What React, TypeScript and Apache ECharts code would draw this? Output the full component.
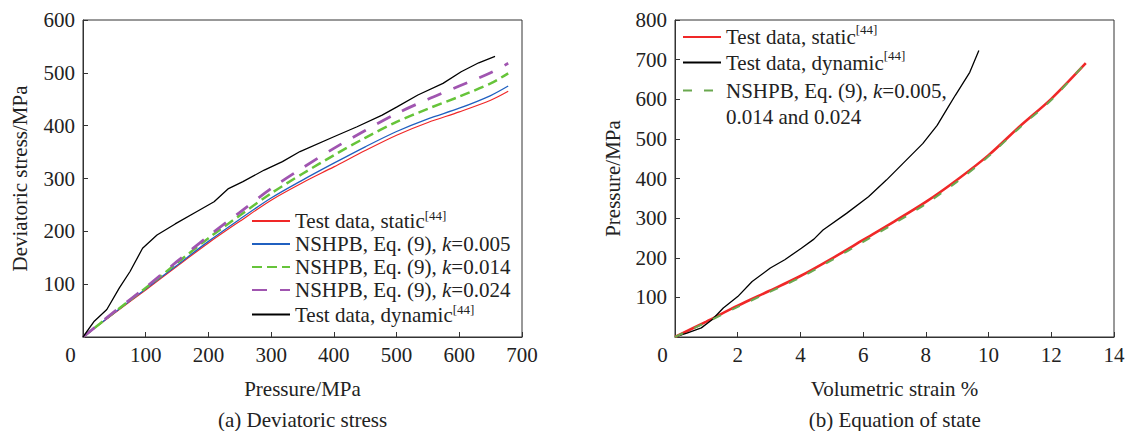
import React, { useEffect, useRef } from "react";
import * as echarts from "echarts";

const FONT = "Liberation Serif, Times New Roman, serif";

// ---- (a) Deviatoric stress vs pressure ----
const pModel = [0, 50, 100, 150, 200, 250, 300, 350, 400, 450, 500, 550, 600, 650, 678];
const dsStatic = [0, 45, 89, 134, 178, 219, 259, 292, 322, 353, 382, 406, 426, 448, 465];
const dsK005 = [0, 46, 91, 136, 181, 223, 263, 297, 329, 360, 389, 413, 433, 457, 475];
const dsK014 = [0, 47, 93, 140, 187, 230, 272, 309, 344, 377, 407, 432, 455, 480, 499];
const dsK024 = [0, 48, 94, 143, 191, 236, 281, 320, 357, 391, 423, 450, 475, 500, 518];
const pDyn = [0, 18, 38, 58, 75, 95, 118, 147, 181, 209, 232, 255, 289, 318, 346, 400, 437, 477, 500, 534, 574, 603, 631, 657];
const dsDyn = [0, 30, 52, 93, 124, 168, 193, 214, 237, 256, 281, 294, 316, 332, 351, 379, 398, 420, 435, 458, 480, 502, 519, 531];

// ---- (b) Equation of state ----
const evStatic = [0, 1, 2, 3, 4, 5, 6, 7, 8, 9, 10, 11, 12, 13.1];
const prStatic = [0, 39, 79, 116, 154, 198, 245, 292, 341, 397, 459, 532, 601, 691];
const evModel = [0, 1, 2, 3, 4, 5, 6, 7, 8, 9, 10, 11, 12, 13.05];
const prModel = [0, 37, 76, 113, 150, 194, 240, 287, 336, 392, 456, 529, 598, 688];
const evDyn = [0, 0.38, 0.84, 1.19, 1.54, 2.0, 2.46, 3.04, 3.5, 4.03, 4.43, 4.72, 5.47, 6.17, 6.74, 7.32, 7.9, 8.36, 8.71, 8.94, 9.17, 9.4, 9.58, 9.69];
const prDyn = [0, 10, 23, 44, 73, 102, 140, 174, 195, 224, 247, 270, 312, 354, 396, 442, 488, 534, 580, 610, 639, 668, 702, 723];

const xTicksA = { min: 0, max: 700, interval: 100 };
const yTicksA = { min: 0, max: 600, interval: 100 };
const xTicksB = { min: 0, max: 14, interval: 2 };
const yTicksB = { min: 0, max: 800, interval: 100 };

const zip = (xs: number[], ys: number[]) => xs.map((x, i) => [x, ys[i]]);

const legendText: Record<string, string> = {
  "a-static": "{t|Test data, static}{s|[44]}",
  "a-k005": "{t|NSHPB, Eq. (9), }{i|k}{t|=0.005}",
  "a-k014": "{t|NSHPB, Eq. (9), }{i|k}{t|=0.014}",
  "a-k024": "{t|NSHPB, Eq. (9), }{i|k}{t|=0.024}",
  "a-dyn": "{t|Test data, dynamic}{s|[44]}",
  "b-static": "{t|Test data, static}{s|[44]}",
  "b-dyn": "{t|Test data, dynamic}{s|[44]}",
  "b-model": "{t| }\n{t|NSHPB, Eq. (9), }{i|k}{t|=0.005,}\n{t|0.014 and 0.024}",
};

const AXIS_COLOR = "#333";
const TEXT_COLOR = "#222";

function richFor(lh: number) {
  return {
    t: { fontFamily: FONT, fontSize: 21, color: TEXT_COLOR, lineHeight: lh },
    i: { fontFamily: FONT, fontSize: 21, fontStyle: "italic", color: TEXT_COLOR, lineHeight: lh },
    s: { fontFamily: FONT, fontSize: 13, color: TEXT_COLOR, lineHeight: 15, verticalAlign: "top" },
  };
}

function axisX(gridIndex: number, ticks: any, name: string) {
  return {
    type: "value",
    gridIndex,
    ...ticks,
    name,
    nameLocation: "middle",
    nameGap: 41,
    nameTextStyle: { fontFamily: FONT, fontSize: 21, color: TEXT_COLOR },
    axisLine: { show: true, lineStyle: { color: AXIS_COLOR, width: 1 } },
    axisTick: { show: true, inside: true, length: 5, lineStyle: { color: AXIS_COLOR } },
    splitLine: { show: false },
    axisLabel: {
      margin: 7,
      fontFamily: FONT,
      fontSize: 21,
      color: TEXT_COLOR,
      formatter: (v: number) => (v === 0 ? "{z|0}" : String(v)),
      rich: { z: { fontFamily: FONT, fontSize: 21, color: TEXT_COLOR, padding: [0, 25, 0, 0] } },
    },
  };
}

function axisY(gridIndex: number, ticks: any, name: string, gap: number) {
  return {
    type: "value",
    gridIndex,
    ...ticks,
    name,
    nameLocation: "middle",
    nameGap: gap,
    nameTextStyle: { fontFamily: FONT, fontSize: 21, color: TEXT_COLOR },
    axisLine: { show: true, lineStyle: { color: AXIS_COLOR, width: 1 } },
    axisTick: { show: true, inside: true, length: 5, lineStyle: { color: AXIS_COLOR } },
    splitLine: { show: false },
    axisLabel: {
      margin: 8,
      fontFamily: FONT,
      fontSize: 21,
      color: TEXT_COLOR,
      formatter: (v: number) => (v === 0 ? "" : String(v)),
    },
  };
}

function line(name: string, xi: number, data: number[][], color: string, width: number, type: any, smooth: boolean | number) {
  return {
    type: "line",
    name,
    xAxisIndex: xi,
    yAxisIndex: xi,
    data,
    symbol: "none",
    showSymbol: false,
    smooth,
    lineStyle: { color, width, type },
    itemStyle: { color },
    emphasis: { disabled: true },
  };
}

export default function App() {
  const ref = useRef<HTMLDivElement>(null);
  useEffect(() => {
    if (!ref.current) return;
    const chart = echarts.init(ref.current, undefined, { renderer: "svg" });
    const legendBase = {
      orient: "vertical",
      padding: 0,
      itemGap: 0,
      itemWidth: 38,
      itemHeight: 14,
      selectedMode: false,
      itemStyle: { opacity: 0 },
      formatter: (n: string) => legendText[n] || n,
    };
    chart.setOption({
      animation: false,
      backgroundColor: "#fff",
      grid: [
        { left: 83, top: 20, width: 439, height: 317, show: true, borderColor: AXIS_COLOR, borderWidth: 1, containLabel: false },
        { left: 675, top: 20, width: 439, height: 317, show: true, borderColor: AXIS_COLOR, borderWidth: 1, containLabel: false },
      ],
      xAxis: [axisX(0, xTicksA, "Pressure/MPa"), axisX(1, xTicksB, "Volumetric strain %")],
      yAxis: [axisY(0, yTicksA, "Deviatoric stress/MPa", 53), axisY(1, yTicksB, "Pressure/MPa", 52)],
      legend: [
        {
          ...legendBase,
          left: 251,
          top: 209,
          itemGap: 2,
          data: ["a-static", "a-k005", "a-k014", "a-k024", "a-dyn"],
          textStyle: { fontFamily: FONT, fontSize: 21, color: TEXT_COLOR, rich: richFor(24) },
        },
        {
          ...legendBase,
          left: 682,
          top: 23,
          itemGap: 1,
          data: ["b-static", "b-dyn"],
          textStyle: { fontFamily: FONT, fontSize: 21, color: TEXT_COLOR, rich: richFor(28) },
        },
        {
          ...legendBase,
          left: 682,
          top: 54,
          data: ["b-model"],
          textStyle: { fontFamily: FONT, fontSize: 21, color: TEXT_COLOR, rich: richFor(26) },
        },
      ],
      series: [
        line("a-static", 0, zip(pModel, dsStatic), "#f02828", 1.2, "solid", 0.3),
        line("a-k005", 0, zip(pModel, dsK005), "#2060c0", 1.3, "solid", 0.3),
        line("a-k014", 0, zip(pModel, dsK014), "#66c43a", 2.5, [10, 5], 0.3),
        line("a-k024", 0, zip(pModel, dsK024), "#a055b0", 2.8, [15, 13], 0.3),
        line("a-dyn", 0, zip(pDyn, dsDyn), "#000000", 1.3, "solid", false),
        line("b-static", 1, zip(evStatic, prStatic), "#f02828", 2.6, "solid", 0.3),
        line("b-dyn", 1, zip(evDyn, prDyn), "#000000", 1.3, "solid", false),
        line("b-model", 1, zip(evModel, prModel), "#6aa84f", 2, [9, 12], 0.3),
      ],
      graphic: [
        {
          type: "text",
          x: 302.6,
          y: 420,
          style: { text: "(a) Deviatoric stress", fontFamily: FONT, fontSize: 21, fill: TEXT_COLOR, align: "center", verticalAlign: "middle" },
        },
        {
          type: "text",
          x: 894.7,
          y: 420,
          style: { text: "(b) Equation of state", fontFamily: FONT, fontSize: 21, fill: TEXT_COLOR, align: "center", verticalAlign: "middle" },
        },
      ],
    });
    return () => chart.dispose();
  }, []);
  return <div ref={ref} style={{ position: "fixed", left: 0, top: 0, width: 1128, height: 431 }} />;
}
